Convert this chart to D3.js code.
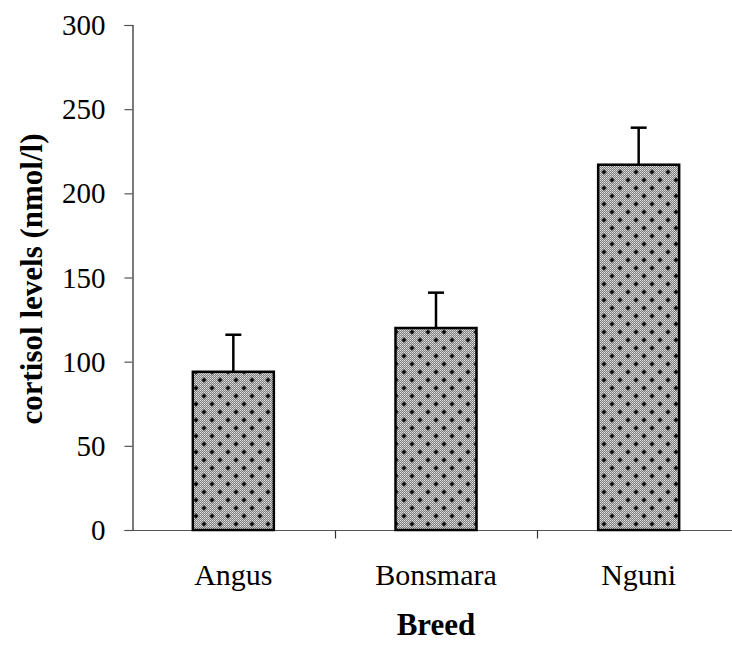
<!DOCTYPE html>
<html>
<head>
<meta charset="utf-8">
<script src="https://cdn.jsdelivr.net/npm/d3@7"></script>
<style>
  html, body { margin: 0; padding: 0; background: #fff; }
  svg { display: block; font-family: "Liberation Serif", "Times New Roman", serif; }
</style>
</head>
<body>
<svg id="chart" width="732" height="648"></svg>
<script>
// Mean cortisol per breed with error (SE) above each bar
const breeds = ["Angus", "Bonsmara", "Nguni"];
const cortisol = [94, 120, 217];
const errors = [22, 21, 22];
const yTicks = [0, 50, 100, 150, 200, 250, 300];

const svg = d3.select("#chart");
const margin = { left: 132, top: 25, right: -8, bottom: 118 };
const W = 732, H = 648;
const plotW = W - margin.left - margin.right; // 203 per category
const plotH = H - margin.top - margin.bottom;
const serif = "Liberation Serif, Times New Roman, serif";

// Dotted-grey fill used by the bars
const defs = svg.append("defs");
const pat = defs.append("pattern")
  .attr("id", "dots")
  .attr("patternUnits", "userSpaceOnUse")
  .attr("width", 16).attr("height", 16);
pat.append("rect").attr("width", 16).attr("height", 16).attr("fill", "#7e7e7e");
for (let i = 0; i < 16; i += 2) {
  for (let j = 0; j < 16; j += 2) {
    pat.append("rect").attr("x", i).attr("y", j).attr("width", 1).attr("height", 1).attr("fill", "#e4e4e4");
    pat.append("rect").attr("x", i + 1).attr("y", j + 1).attr("width", 1).attr("height", 1).attr("fill", "#c4c4c4");
  }
}
[[4, 4], [12, 12]].forEach(([cx, cy]) => {
  pat.append("rect").attr("x", cx - 2.5).attr("y", cy - 0.5).attr("width", 5).attr("height", 1).attr("fill", "#000");
  pat.append("rect").attr("x", cx - 0.5).attr("y", cy - 2.5).attr("width", 1).attr("height", 5).attr("fill", "#000");
  pat.append("rect").attr("x", cx - 1.5).attr("y", cy - 1.5).attr("width", 3).attr("height", 3).attr("fill", "#000");
});

const x = d3.scaleBand().domain(breeds).range([margin.left, margin.left + plotW]).paddingInner(0).paddingOuter(0);
const y = d3.scaleLinear().domain([0, 300]).range([margin.top + plotH, margin.top]);

const g = svg.append("g");

// Y axis
const yAxis = g.append("g")
  .attr("transform", `translate(${margin.left + 0.5},0)`)
  .call(d3.axisLeft(y).tickValues(yTicks).tickSize(8).tickPadding(19));
yAxis.select(".domain").attr("stroke", "#222").attr("stroke-width", 1.2);
yAxis.selectAll(".tick line").attr("stroke", "#555").attr("stroke-width", 1.2);
yAxis.selectAll(".tick text")
  .attr("font-family", serif)
  .attr("font-size", 29).attr("fill", "#000").attr("dy", "0.33em");

// X axis: ticks mark the boundaries between categories
const xBase = y(0) + 0.5;
g.append("line")
  .attr("x1", margin.left).attr("x2", W)
  .attr("y1", xBase).attr("y2", xBase)
  .attr("stroke", "#555").attr("stroke-width", 1.2);
const bounds = breeds.map(b => x(b)).concat([x(breeds[breeds.length - 1]) + x.bandwidth()]);
g.selectAll(".xb").data(bounds.slice(1)).join("line")
  .attr("x1", d => Math.round(d) + 0.5).attr("x2", d => Math.round(d) + 0.5)
  .attr("y1", xBase).attr("y2", xBase + 8)
  .attr("stroke", "#333").attr("stroke-width", 1.2);
g.selectAll(".xl").data(breeds).join("text")
  .attr("x", d => x(d) + x.bandwidth() / 2)
  .attr("y", 585)
  .attr("text-anchor", "middle")
  .attr("font-family", serif)
  .attr("font-size", 30)
  .text(d => d);

// Bars
const barW = 81;
const data = breeds.map((b, i) => ({ b, v: cortisol[i], e: errors[i] }));
g.selectAll(".bar").data(data).join("rect")
  .attr("x", d => x(d.b) + x.bandwidth() / 2 - barW / 2)
  .attr("y", d => y(d.v))
  .attr("width", barW)
  .attr("height", d => y(0) - y(d.v))
  .attr("fill", "url(#dots)")
  .attr("stroke", "#000").attr("stroke-width", 2.5);

// Error bars (upper only)
g.selectAll(".err").data(data).join("line")
  .attr("x1", d => x(d.b) + x.bandwidth() / 2).attr("x2", d => x(d.b) + x.bandwidth() / 2)
  .attr("y1", d => y(d.v)).attr("y2", d => y(d.v + d.e))
  .attr("stroke", "#000").attr("stroke-width", 2.5);
g.selectAll(".cap").data(data).join("line")
  .attr("x1", d => x(d.b) + x.bandwidth() / 2 - 8).attr("x2", d => x(d.b) + x.bandwidth() / 2 + 8)
  .attr("y1", d => y(d.v + d.e)).attr("y2", d => y(d.v + d.e))
  .attr("stroke", "#000").attr("stroke-width", 2.5);

// Axis titles
svg.append("text")
  .attr("x", margin.left + plotW * 1.5 / 3)
  .attr("y", 635)
  .attr("text-anchor", "middle")
  .attr("font-family", serif)
  .attr("font-size", 31).attr("font-weight", "bold")
  .text("Breed");
svg.append("text")
  .attr("transform", `translate(42,279) rotate(-90)`)
  .attr("text-anchor", "middle")
  .attr("font-family", serif)
  .attr("font-size", 31).attr("font-weight", "bold")
  .text("cortisol levels (nmol/l)");
</script>
</body>
</html>
